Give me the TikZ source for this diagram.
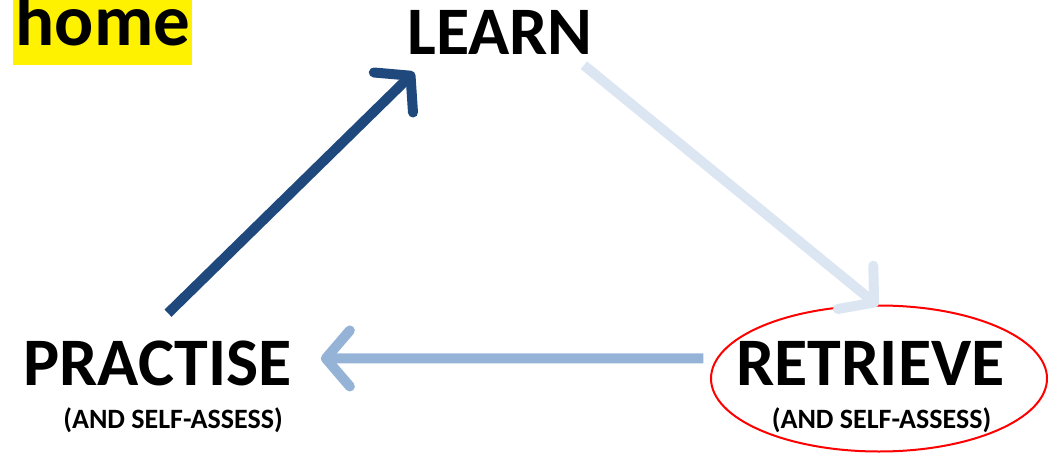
\documentclass[tikz,border=0pt]{standalone}
\usepackage{fontspec}
\setmainfont{Carlito}
\usetikzlibrary{arrows.meta,calc}
\definecolor{darkblue}{HTML}{1F497D}
\definecolor{midblue}{HTML}{95B3D7}
\definecolor{paleblue}{HTML}{DCE6F2}
\begin{document}
\begin{tikzpicture}[
          x=1pt, y=1pt,
          every node/.style={
            inner sep=0pt,
            anchor=base,
            font=\bfseries,
          },
          title/.style={font=\fontsize{68}{80}\selectfont\bfseries},
          subtitle/.style={font=\fontsize{28}{33}\selectfont\bfseries},
          cycle/.style={line width=10pt, ->},
          >={Straight Barb[length=24pt,width=56pt,round]},
        ]
        \useasboundingbox (0,0) rectangle (1048,453);
        \fill[yellow] (13,388) rectangle (192,453);
        \node[font=\fontsize{73}{84}\selectfont\bfseries] at (103,407) (home) {home} ;
        \node[title] at (500,398) (learn) {LEARN} ;
        \node[title] at (157.5,68) (practise) {PRACTISE} ;
        \node[subtitle] at (173,25) (practisesub) {(AND SELF-ASSESS)} ;
        \node[title] at (870.5,68) (retrieve) {RETRIEVE} ;
        \node[subtitle] at (881.5,25) (retrievesub) {(AND SELF-ASSESS)} ;
        \draw[red, line width=2pt] (879,74.5) ellipse [x radius=168, y radius=73] ;
        \draw[cycle, darkblue] ($(practise.north)+(10.5,27)$) -- ($(learn.south west)+(7,-17)$) ;
        \draw[cycle, paleblue] ($(learn.south east)+(-9,-10)$) -- ($(retrieve.north)+(7.5,35)$) ;
        \draw[cycle, midblue] ($(retrieve.west)+(-33,4.5)$) -- ($(practise.east)+(29,4.5)$) ;
        \end{tikzpicture}
\end{document}
